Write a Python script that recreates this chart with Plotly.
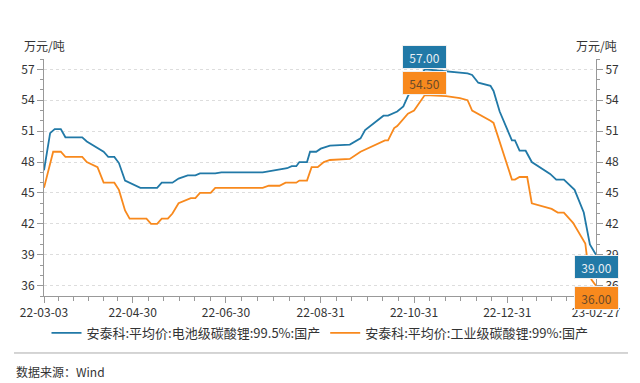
import plotly.graph_objects as go
import pandas as pd

# ---------------- data ----------------
blue_name = "安泰科:平均价:电池级碳酸锂:99.5%:国产"
orange_name = "安泰科:平均价:工业级碳酸锂:99%:国产"

blue_dates = ["2022-03-03","2022-03-07","2022-03-10","2022-03-14","2022-03-17","2022-03-28","2022-03-31",
              "2022-04-07","2022-04-11","2022-04-14","2022-04-18","2022-04-21","2022-04-25","2022-05-05",
              "2022-05-16","2022-05-19","2022-05-26","2022-05-30","2022-06-05","2022-06-10","2022-06-13",
              "2022-06-23","2022-06-27","2022-07-24","2022-07-28","2022-08-02","2022-08-09","2022-08-12",
              "2022-08-15","2022-08-17","2022-08-22","2022-08-24","2022-08-28","2022-08-31","2022-09-06",
              "2022-09-19","2022-09-26","2022-09-29","2022-10-11","2022-10-14","2022-10-20","2022-10-24",
              "2022-10-27","2022-11-07","2022-11-14","2022-11-21","2022-12-05","2022-12-08","2022-12-12",
              "2022-12-20","2022-12-22","2022-12-26","2023-01-03","2023-01-05","2023-01-08","2023-01-12",
              "2023-01-16","2023-01-28","2023-02-01","2023-02-06","2023-02-13","2023-02-19","2023-02-21",
              "2023-02-23","2023-02-27"]
blue_vals = [47.2, 50.8, 51.2, 51.2, 50.4, 50.4, 50.0, 49.4, 49.0, 48.5, 48.5, 47.9, 46.2, 45.5, 45.5,
             46.0, 46.0, 46.4, 46.7, 46.7, 46.9, 46.9, 47.0, 47.0, 47.1, 47.2, 47.4, 47.6, 47.6, 48.0,
             48.0, 49.0, 49.0, 49.3, 49.6, 49.7, 50.3, 51.1, 52.5, 52.5, 52.9, 53.4, 54.4, 57.0, 56.9,
             56.8, 56.6, 56.45, 55.7, 55.4, 54.9, 52.9, 50.1, 50.1, 49.1, 49.1, 48.0, 46.85, 46.3, 46.3,
             45.3, 43.1, 41.4, 40.0, 39.0]

orange_dates = ["2022-03-03","2022-03-09","2022-03-14","2022-03-17","2022-03-28","2022-03-31","2022-04-07",
                "2022-04-11","2022-04-18","2022-04-21","2022-04-25","2022-04-28","2022-05-09","2022-05-12",
                "2022-05-16","2022-05-19","2022-05-23","2022-05-26","2022-05-30","2022-06-07","2022-06-10",
                "2022-06-13","2022-06-20","2022-06-23","2022-07-24","2022-07-28","2022-08-04","2022-08-08",
                "2022-08-15","2022-08-17","2022-08-22","2022-08-25","2022-08-29","2022-09-02","2022-09-06",
                "2022-09-19","2022-09-26","2022-10-12","2022-10-14","2022-10-18","2022-10-20","2022-10-27",
                "2022-10-31","2022-11-07","2022-11-21","2022-11-30","2022-12-05","2022-12-08","2022-12-20",
                "2022-12-22","2023-01-03","2023-01-05","2023-01-08","2023-01-13","2023-01-16","2023-01-29",
                "2023-02-02","2023-02-06","2023-02-12","2023-02-17","2023-02-20","2023-02-21","2023-02-24",
                "2023-02-27"]
orange_vals = [45.5, 49.0, 49.0, 48.5, 48.5, 48.0, 47.5, 46.0, 46.0, 45.3, 43.3, 42.5, 42.5, 42.0, 42.0,
               42.5, 42.5, 43.0, 44.0, 44.5, 44.5, 45.0, 45.0, 45.5, 45.5, 45.7, 45.7, 46.0, 46.0, 46.2,
               46.2, 47.5, 47.5, 48.0, 48.2, 48.3, 49.0, 50.1, 50.1, 51.3, 51.5, 52.7, 53.0, 54.5, 54.4,
               54.2, 54.0, 53.0, 52.0, 51.8, 46.3, 46.3, 46.55, 46.55, 44.0, 43.45, 43.1, 43.1, 42.1,
               40.8, 40.1, 38.9, 36.6, 36.0]

x_tick_dates = ["2022-03-03", "2022-04-30", "2022-06-30", "2022-08-31", "2022-10-31", "2022-12-31", "2023-02-27"]
x_tick_labels = ["22-03-03", "22-04-30", "22-06-30", "22-08-31", "22-10-31", "22-12-31", "23-02-27"]
y_ticks = [36, 39, 42, 45, 48, 51, 54, 57]
y_range = [35, 58]
unit_label = "万元/吨"
source_text = "数据来源：Wind"

# ---------------- style ----------------
BLUE = "#2179A7"
ORANGE = "#F8891D"
FONT = "Noto Sans CJK SC, Noto Sans, sans-serif"
TXT = "#333333"
AXC = "#999999"

# minor x ticks: each labelled interval split into 6
xt = pd.to_datetime(x_tick_dates)
minor_x = []
for a, b in zip(xt[:-1], xt[1:]):
    for k in range(1, 6):
        minor_x.append((a + (b - a) * k / 6).strftime("%Y-%m-%d %H:%M"))

fig = go.Figure()
fig.add_trace(go.Scatter(x=blue_dates, y=blue_vals, mode="lines", name=blue_name,
                         line=dict(color=BLUE, width=1.8), hoverinfo="skip"))
fig.add_trace(go.Scatter(x=orange_dates, y=orange_vals, mode="lines", name=orange_name,
                         line=dict(color=ORANGE, width=1.8), hoverinfo="skip"))

ax_common = dict(range=y_range, tickvals=y_ticks, ticks="outside", ticklen=6, tickcolor=AXC,
                 showline=True, linecolor=AXC, linewidth=1, zeroline=False,
                 tickfont=dict(size=12, color=TXT, family=FONT),
                 minor=dict(dtick=1, tick0=35, ticks="outside", ticklen=3, tickcolor=AXC, showgrid=False))

fig.update_layout(
    width=640, height=383,
    margin=dict(l=44, r=44, t=59, b=87),
    paper_bgcolor="white", plot_bgcolor="white",
    font=dict(family=FONT, color=TXT, size=12),
    showlegend=True,
    legend=dict(orientation="h", x=0.5, xanchor="center", y=-0.156, yanchor="middle",
                font=dict(size=13, color=TXT, family=FONT), itemwidth=30, tracegroupgap=0),
    xaxis=dict(type="date", range=[x_tick_dates[0], x_tick_dates[-1]],
               tickmode="array", tickvals=x_tick_dates, ticktext=x_tick_labels,
               ticks="outside", ticklen=6, tickcolor=AXC, showline=True, linecolor=AXC,
               showgrid=False, zeroline=False, tickfont=dict(size=12, color=TXT, family=FONT),
               minor=dict(tickmode="array", tickvals=minor_x, ticks="outside", ticklen=4,
                          tickcolor=AXC, showgrid=False)),
    yaxis=dict(**ax_common, side="left", showgrid=True, gridcolor="#dddddd", griddash="3px,3px",
               gridwidth=1),
    yaxis2=dict(**ax_common, side="right", overlaying="y", showgrid=False),
)

# invisible trace so the right axis is drawn
fig.add_trace(go.Scatter(x=[x_tick_dates[0]], y=[y_range[0]], yaxis="y2", mode="markers",
                         marker=dict(opacity=0), showlegend=False, hoverinfo="skip"))

# unit labels
for xp in (0, 1):
    fig.add_annotation(xref="paper", yref="paper", x=xp, y=1.056, text=unit_label, showarrow=False,
                       xanchor="center", yanchor="middle", font=dict(size=12, color=TXT, family=FONT))

# value boxes: peaks (above) and last values (below)
def box(xv, yv, color, fcolor, anchor):
    fig.add_annotation(x=xv, y=yv, xref="x", yref="y", text=f"{yv:.2f}", showarrow=False,
                       xanchor="center", yanchor=anchor, bgcolor=color, bordercolor="#f0f0f0",
                       borderwidth=1, borderpad=1, width=41, height=20,
                       font=dict(size=12, color=fcolor, family=FONT))

bi = max(range(len(blue_vals)), key=lambda i: blue_vals[i])
oi = max(range(len(orange_vals)), key=lambda i: orange_vals[i])
box(blue_dates[bi], blue_vals[bi], BLUE, "#e8eef4", "bottom")
box(orange_dates[oi], orange_vals[oi], ORANGE, "#6a4a2a", "bottom")
box(blue_dates[-1], blue_vals[-1], BLUE, "#e8eef4", "top")
box(orange_dates[-1], orange_vals[-1], ORANGE, "#6a4a2a", "top")

# separator line and source
fig.add_shape(type="line", xref="paper", yref="paper", x0=(14 - 44) / 552, x1=(628 - 44) / 552,
              y0=-0.2405, y1=-0.2405, line=dict(color="#aaaaaa", width=1))
fig.add_annotation(xref="paper", yref="paper", x=(14 - 44) / 552, y=-0.3165, xanchor="left",
                   yanchor="middle", text=source_text, showarrow=False,
                   font=dict(size=12, color=TXT, family=FONT))

fig.write_html("out.html", config={"displayModeBar": False},
               post_script="document.body.style.margin='0';document.body.style.overflow='hidden';")
